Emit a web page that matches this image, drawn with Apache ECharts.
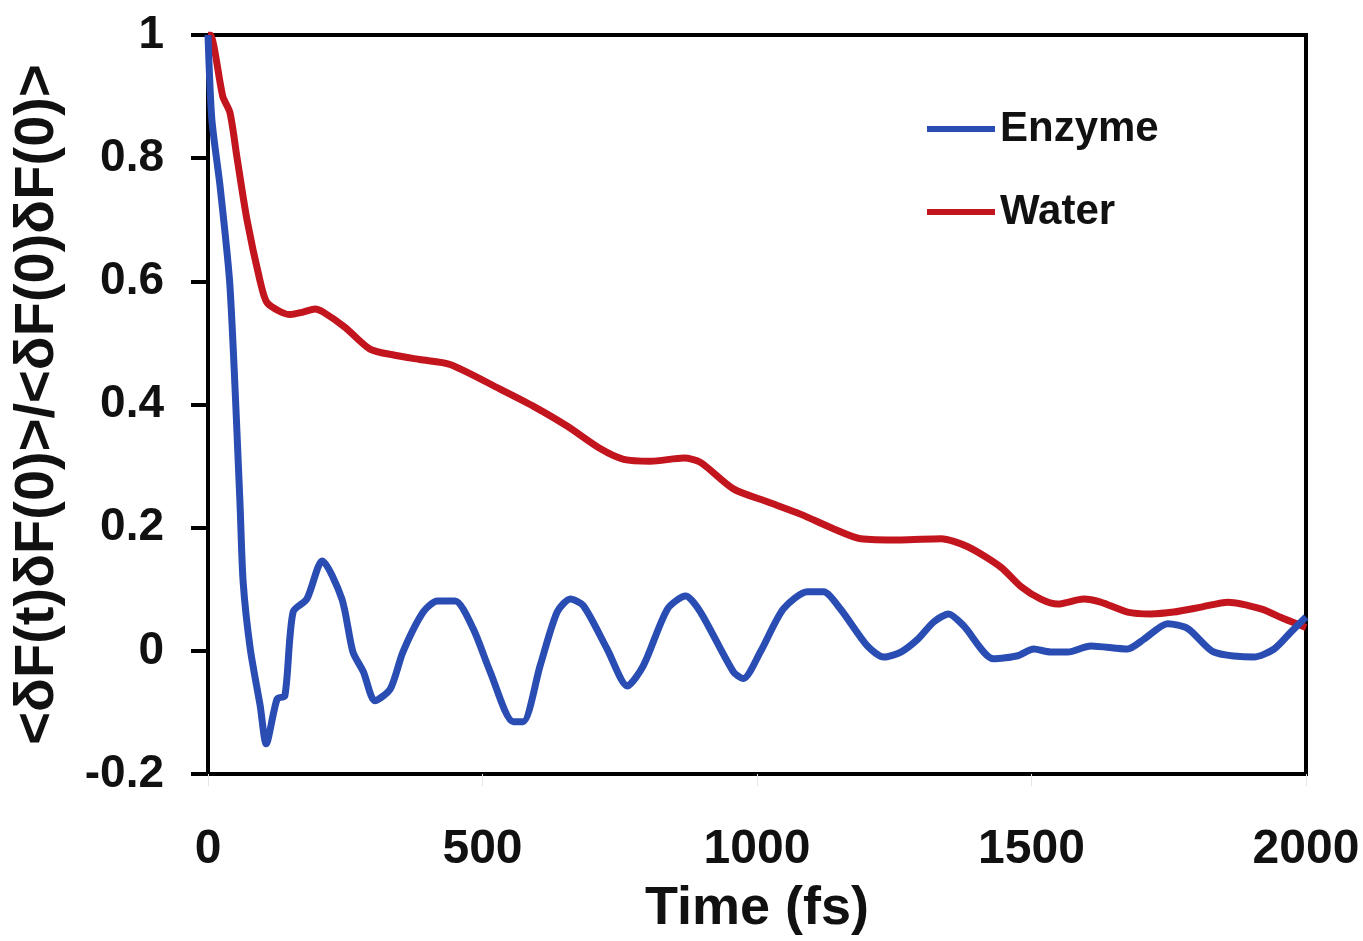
<!DOCTYPE html>
<html>
<head>
<meta charset="utf-8">
<script src="https://cdn.jsdelivr.net/npm/echarts@6/dist/echarts.min.js"></script>
<style>
  html, body { margin: 0; padding: 0; background: #fff; }
  #chart { width: 1363px; height: 941px; }
</style>
</head>
<body>
<div id="chart"></div>
<script>
// Data
const enzymeTime = [0, 7, 22, 40, 58, 64, 77, 95, 106, 126, 140, 155, 180, 208, 244, 264, 283, 304, 332, 355, 392, 418, 450, 483, 514, 556, 574, 605, 636, 660, 684, 727, 764, 793, 837, 870, 897, 957, 975, 1006, 1048, 1092, 1121, 1152, 1201, 1231, 1262, 1293, 1322, 1349, 1376, 1431, 1475, 1504, 1535, 1566, 1608, 1675, 1705, 1748, 1785, 1832, 1905, 1942, 1973, 2000];
const enzymeValue = [1.0, 0.863, 0.754, 0.592, 0.246, 0.112, 0.003, -0.089, -0.151, -0.078, -0.073, 0.063, 0.084, 0.146, 0.084, -0.002, -0.034, -0.081, -0.062, -0.002, 0.063, 0.081, 0.081, 0.036, -0.034, -0.115, -0.115, -0.024, 0.063, 0.084, 0.073, 0.003, -0.057, -0.024, 0.068, 0.089, 0.063, -0.034, -0.045, -0.002, 0.068, 0.096, 0.096, 0.068, 0.008, -0.010, -0.002, 0.019, 0.047, 0.060, 0.041, -0.013, -0.008, 0.003, -0.002, -0.002, 0.008, 0.003, 0.019, 0.044, 0.036, -0.002, -0.010, 0.003, 0.031, 0.055];

const waterTime = [0, 4, 27, 40, 53, 71, 95, 107, 131, 150, 173, 195, 210, 250, 295, 340, 386, 441, 532, 593, 654, 715, 757, 806, 867, 897, 957, 1019, 1079, 1140, 1189, 1262, 1335, 1384, 1444, 1480, 1517, 1548, 1595, 1626, 1675, 1717, 1759, 1809, 1858, 1918, 1960, 2000];
const waterValue = [1.0, 1.0, 0.90, 0.874, 0.80, 0.70, 0.60, 0.566, 0.551, 0.546, 0.55, 0.555, 0.55, 0.525, 0.49, 0.48, 0.473, 0.465, 0.425, 0.397, 0.365, 0.328, 0.311, 0.308, 0.313, 0.306, 0.263, 0.242, 0.222, 0.198, 0.182, 0.18, 0.182, 0.169, 0.136, 0.105, 0.084, 0.076, 0.084, 0.079, 0.063, 0.060, 0.063, 0.071, 0.079, 0.068, 0.052, 0.038];

const seriesNames = ['Enzyme', 'Water'];
const xTickValues = [0, 500, 1000, 1500, 2000];
const yTickValues = [-0.2, 0, 0.2, 0.4, 0.6, 0.8, 1];
const xTitle = 'Time (fs)';
const yTitle = '<δF(t)δF(0)>/<δF(0)δF(0)>';

function pairs(ts, vs) { return ts.map((t, i) => [t, vs[i]]); }

const FONT = '"Liberation Sans", Arial, sans-serif';
const chart = echarts.init(document.getElementById('chart'), null, { renderer: 'canvas' });
chart.setOption({
  backgroundColor: '#ffffff',
  animation: false,
  grid: { left: 208, right: 57, top: 35, bottom: 166, show: true, borderColor: '#000', borderWidth: 4, backgroundColor: 'transparent' },
  legend: {
    orient: 'vertical',
    left: 922, top: 103,
    itemWidth: 68, itemHeight: 6, itemGap: 41,
    icon: 'rect',
    textStyle: { fontFamily: FONT, fontWeight: 'bold', fontSize: 42, color: '#111', padding: [0, 0, 0, 0] },
    data: seriesNames
  },
  xAxis: {
    type: 'value', min: xTickValues[0], max: xTickValues[xTickValues.length - 1], interval: 500,
    name: xTitle, nameLocation: 'middle', nameGap: 108,
    nameTextStyle: { fontFamily: FONT, fontWeight: 'bold', fontSize: 54, color: '#111' },
    axisLine: { show: true, onZero: false, lineStyle: { color: '#000', width: 4 } },
    axisTick: { show: true, length: 12, inside: false, lineStyle: { color: '#e6e6e6', width: 1 } },
    axisLabel: { margin: 52, fontFamily: FONT, fontWeight: 'bold', fontSize: 48, color: '#111',
      formatter: v => String(v) },
    splitLine: { show: false }
  },
  yAxis: {
    type: 'value', min: -0.2, max: 1, interval: 0.2,
    name: yTitle, nameLocation: 'middle', nameGap: 142, nameRotate: 90,
    nameTextStyle: { fontFamily: FONT, fontWeight: 'bold', fontSize: 56, color: '#111' },
    axisLine: { show: true, onZero: false, lineStyle: { color: '#000', width: 4 } },
    axisTick: { show: true, length: 17, inside: false, lineStyle: { color: '#000', width: 4 } },
    axisLabel: {
      margin: 44, fontFamily: FONT, fontWeight: 'bold', fontSize: 46, color: '#111',
      formatter: v => String(Math.round(v * 10) / 10)
    },
    splitLine: { show: false }
  },
  series: [
    { name: seriesNames[0], type: 'line', data: pairs(enzymeTime, enzymeValue), showSymbol: false, smooth: 0.25,
      lineStyle: { color: '#2a4db3', width: 7 }, itemStyle: { color: '#2a4db3' }, z: 3 },
    { name: seriesNames[1], type: 'line', data: pairs(waterTime, waterValue), showSymbol: false, smooth: 0.25,
      lineStyle: { color: '#c2151d', width: 7 }, itemStyle: { color: '#c2151d' }, z: 2 }
  ]
});
</script>
</body>
</html>
